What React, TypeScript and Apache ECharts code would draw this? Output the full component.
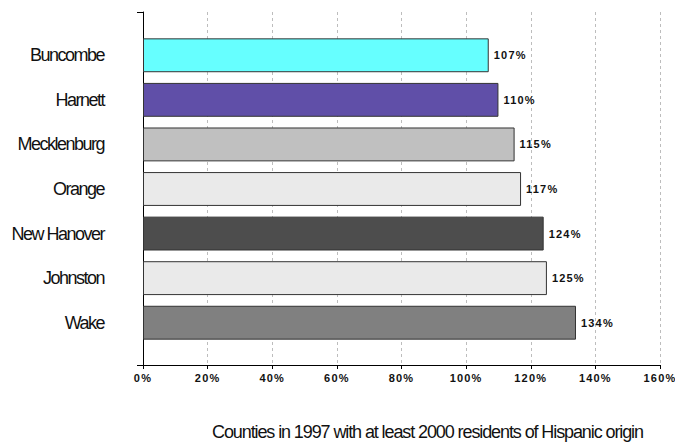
import React, { useEffect, useRef } from "react";
import * as echarts from "echarts";

// Counties and their percentage values, listed top to bottom
const counties = ["Buncombe", "Harnett", "Mecklenburg", "Orange", "New Hanover", "Johnston", "Wake"];
const percentValues = [107, 110, 115, 117, 124, 125, 134];
const barColors = ["#66FFFF", "#604FA8", "#C0C0C0", "#EAEAEA", "#4D4D4D", "#EAEAEA", "#808080"];
const axisMin = 0;
const axisMax = 160;
const axisStep = 20;
const chartTitle = "Counties in 1997 with at least 2000 residents of Hispanic origin";

// Font stacks; the trailing dummy names let the stylesheet below tune spacing per role
const nameFont = "'Liberation Sans', Arial, tightname";
const titleFont = "'Liberation Sans', Arial, tighttitle";
const numberFont = "'Liberation Sans', Arial, widenumber";

const spacingCss = `
  #root svg text[style*="tightname"] { letter-spacing: -1.5px; }
  #root svg text[style*="tighttitle"] { letter-spacing: -1.1px; }
  #root svg text[style*="widenumber"] { letter-spacing: 1.2px; }
`;

export default function App() {
  const ref = useRef<HTMLDivElement>(null);

  useEffect(() => {
    if (!ref.current) return;
    const chart = echarts.init(ref.current, null, { renderer: "svg" });

    chart.setOption({
      animation: false,
      backgroundColor: "#ffffff",
      title: {
        text: chartTitle,
        left: 212,
        top: 423,
        padding: 0,
        textStyle: {
          fontFamily: titleFont,
          fontSize: 18,
          fontWeight: "normal",
          color: "#111",
        },
      },
      grid: [
        // frame: axes and dashed gridlines
        { left: 143, right: 15, top: 12, bottom: 79, outerBoundsMode: "none" },
        // bars
        { left: 143, right: 15, top: 33, bottom: 99, outerBoundsMode: "none" },
      ],
      xAxis: [
        {
          type: "value",
          gridIndex: 0,
          min: axisMin,
          max: axisMax,
          interval: axisStep,
          axisLine: { show: true, lineStyle: { color: "#000", width: 1 } },
          axisTick: { show: true, length: 4, lineStyle: { color: "#000" } },
          axisLabel: {
            formatter: "{value}%",
            fontFamily: numberFont,
            fontWeight: "bold",
            fontSize: 11,
            color: "#111",
            margin: 7,
          },
          splitLine: {
            show: true,
            lineStyle: { color: "#bdbdbd", type: [3, 3], width: 1 },
          },
        },
        {
          type: "value",
          gridIndex: 1,
          min: axisMin,
          max: axisMax,
          show: false,
        },
      ],
      yAxis: [
        {
          type: "value",
          gridIndex: 0,
          min: 0,
          max: 1,
          interval: 1,
          axisLine: { show: true, lineStyle: { color: "#000", width: 1 } },
          axisTick: { show: true, length: 6, lineStyle: { color: "#000" } },
          axisLabel: { show: false },
          splitLine: { show: false },
        },
        {
          type: "category",
          gridIndex: 1,
          inverse: true,
          data: counties,
          axisLine: { show: false },
          axisTick: { show: false },
          axisLabel: {
            margin: 39,
            fontFamily: nameFont,
            fontSize: 18,
            color: "#111",
          },
        },
      ],
      series: [
        {
          type: "bar",
          xAxisIndex: 1,
          yAxisIndex: 1,
          barCategoryGap: "24%",
          data: percentValues.map((v, i) => ({
            value: v,
            itemStyle: { color: barColors[i] },
          })),
          itemStyle: { borderColor: "#333", borderWidth: 1 },
          label: {
            show: true,
            position: "right",
            distance: 5,
            formatter: "{c}%",
            fontFamily: numberFont,
            fontWeight: "bold",
            fontSize: 11,
            color: "#111",
          },
        },
      ],
    });

    return () => chart.dispose();
  }, []);

  return (
    <>
      <style>{spacingCss}</style>
      <div
        ref={ref}
        style={{ position: "fixed", left: 0, top: 0, width: 675, height: 444 }}
      />
    </>
  );
}
